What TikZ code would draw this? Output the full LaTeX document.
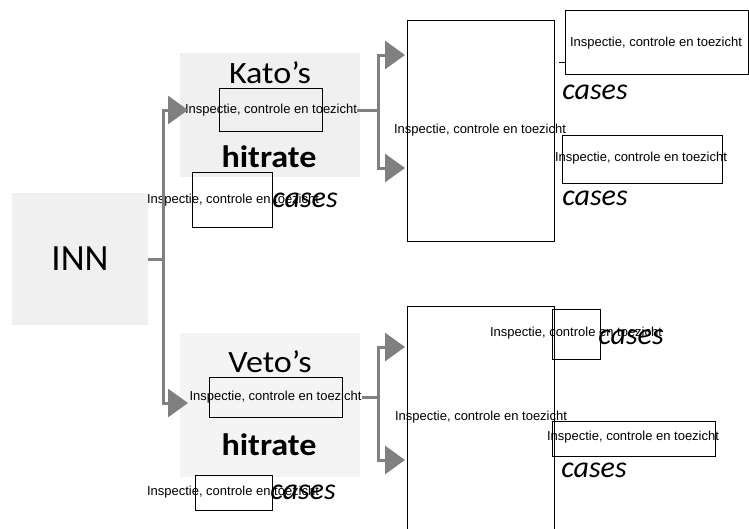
\documentclass[tikz,border=0pt]{standalone}
\usepackage{fontspec}
\setmainfont{Carlito}
\newfontfamily\arialfont{Liberation Sans}
\newfontfamily\widefont[FakeStretch=1.1]{Carlito}
\usetikzlibrary{arrows.meta}
\definecolor{conngray}{rgb}{0.5, 0.5, 0.5}
\definecolor{bggray}{rgb}{0.94, 0.94, 0.94}

\tikzset{
  small/.style={font=\arialfont\fontsize{13}{15}\selectfont, inner sep=0pt},
  title/.style={font=\widefont\fontsize{31}{36}\selectfont, inner sep=0pt},
  case/.style={font=\itshape\fontsize{30}{36}\selectfont, inner sep=0pt},
  frame/.style n args={2}{draw, thin, minimum width=#1pt, minimum height=#2pt, inner sep=0pt},
  conn/.style={conngray, line width=3pt},
  arr/.style={-{Triangle[length=20pt, width=28pt]}},
}

\begin{document}
\begin{tikzpicture}[x=1pt, y=-1pt]
    \useasboundingbox (0,0) rectangle (749,528);
    % grey blocks
    \node[fill=bggray, minimum width=136pt, minimum height=132pt, inner sep=0pt,
          font=\fontsize{37}{40}\selectfont] (inn) at (80,259) {INN};
    \node[fill=bggray, minimum width=180pt, minimum height=124pt] (katogrp) at (270,115) {};
    \node[fill=bggray!70, minimum width=180pt, minimum height=144pt] (vetogrp) at (270,405) {};

    % connectors
    \coordinate (ifork) at (163,259);
    \coordinate (ki) at (188,110);
    \coordinate (vi) at (188,403);
    \coordinate (kfork) at (378,110);
    \coordinate (kt1) at (405,55);
    \coordinate (kt2) at (405,168);
    \coordinate (vfork) at (378,397);
    \coordinate (vt1) at (405,347);
    \coordinate (vt2) at (405,460);

    % Kato's
    \node[title] (kato) at (270,73) {Kato’s};
    \node[frame={103}{43}] (k1box) at (270.5,109.5) {};
    \node[small] (k1) at (271,110) {Inspectie, controle en toezicht};
    \node[title, font=\widefont\bfseries\fontsize{31}{36}\selectfont] (khit) at (269,157) {hitrate};
    \node[frame={80}{55}] (k2box) at (232,199.5) {};
    \node[small] (k2) at (233,200) {Inspectie, controle en toezicht};
    \node[case] (kcase) at (305,200) {cases};

    \node[frame={147}{221}] (b1box) at (480.5,130.5) {};
    \node[small] (b1) at (480,130) {Inspectie, controle en toezicht};
    \node[frame={183}{64}] (r1box) at (656.5,42) {};
    \node[small] (r1) at (656,43) {Inspectie, controle en toezicht};
    \node[case] (r1case) at (595,92) {cases};
    \node[frame={160}{48}] (r2box) at (642,159) {};
    \node[small] (r2) at (641,158) {Inspectie, controle en toezicht};
    \node[case] (r2case) at (595,198) {cases};
    \draw[thick] (559,62) -- (565,62);

    % Veto's
    \node[title] (veto) at (270,362) {Veto’s};
    \node[frame={133}{40}] (v1box) at (275.5,397) {};
    \node[small] (v1) at (275.5,397) {Inspectie, controle en toezicht};
    \node[title, font=\widefont\bfseries\fontsize{31}{36}\selectfont] (vhit) at (269,445) {hitrate};
    \node[frame={77}{35}] (v2box) at (233.5,492.5) {};
    \node[small] (v2) at (233,492) {Inspectie, controle en toezicht};
    \node[case] (vcase) at (303,492) {cases};

    \node[frame={147}{234}] (b2box) at (480.5,423) {};
    \node[small] (b2) at (481,417) {Inspectie, controle en toezicht};
    \node[frame={48}{50}] (r3box) at (576,334) {};
    \node[small] (r3) at (576,333) {Inspectie, controle en toezicht};
    \node[case] (r3case) at (631,337) {cases};
    \node[frame={163}{35}] (r4box) at (633.5,438.5) {};
    \node[small] (r4) at (633,437) {Inspectie, controle en toezicht};
    \node[case] (r4case) at (594,470) {cases};

    \draw[conn] (inn.east) -- (ifork);
    \draw[conn, arr] (ifork) |- (ki);
    \draw[conn, arr] (ifork) |- (vi);
    \draw[conn] (k1.east) -- (kfork);
    \draw[conn, arr] (kfork) |- (kt1);
    \draw[conn, arr] (kfork) |- (kt2);
    \draw[conn] (v1.east) -- (vfork);
    \draw[conn, arr] (vfork) |- (vt1);
    \draw[conn, arr] (vfork) |- (vt2);
\end{tikzpicture}
\end{document}
